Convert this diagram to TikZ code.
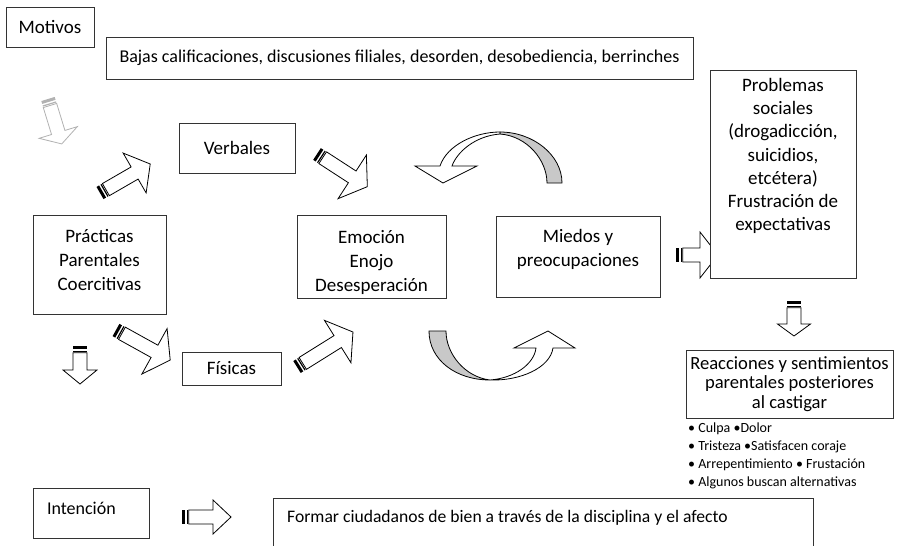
\documentclass[tikz,border=0pt]{standalone}
\usepackage{fontspec}
\setmainfont{Carlito}
\usepackage{tikz}
\usetikzlibrary{backgrounds}
\definecolor{bandgray}{HTML}{C8C8C8}
\definecolor{linegray}{HTML}{333333}

\begin{document}
\begin{tikzpicture}[x=1pt,y=-1pt,
  cbox/.style={draw=linegray,line width=1pt,fill=white,align=center,inner sep=0pt,
               font=\fontsize{19}{24}\selectfont},
  ltxt/.style={cbox,align=flush left},
  band/.style={draw=black,line width=0.8pt,fill=bandgray},
  face/.style={draw=black,line width=0.8pt,fill=white},
  pics/blockarr/.style n args={3}{code={
    \fill (0,-7) rectangle (3,7);
    \fill (4.6,-7) rectangle (5.8,7);
    \draw[line width=0.8pt,fill=white] (6.8,-7) -- ({#1-#3},-7) -- ({#1-#3},{-#2/2})
      -- (#1,0) -- ({#1-#3},{#2/2}) -- ({#1-#3},7) -- (6.8,7) -- cycle;
  }}
]
\useasboundingbox (0,0) rectangle (898,546);

\node[cbox,minimum width=88pt,minimum height=40pt] (motivos) at (50,27) {Motivos};
\node[cbox,minimum width=587pt,minimum height=42pt,
      font=\fontsize{18}{22}\selectfont] (causas) at (399.5,58)
  {Bajas calificaciones, discusiones filiales, desorden, desobediencia, berrinches};
\node[cbox,minimum width=116pt,minimum height=50pt] (verbales) at (237,148) {Verbales};
\node[cbox,minimum width=133pt,minimum height=99pt,text depth=10pt] (practicas) at (99.5,264.5)
  {Prácticas\\Parentales\\Coercitivas};
\node[cbox,minimum width=149pt,minimum height=83pt,text height=75pt,text depth=5pt] (emocion)
  at (371.5,256.5) {Emoción\\Enojo\\Desesperación};
\node[cbox,minimum width=164pt,minimum height=81pt,text depth=18pt] (miedos) at (578,256.5)
  {Miedos y\\preocupaciones};
\node[cbox,minimum width=99pt,minimum height=33pt] (fisicas) at (231.5,368.5) {Físicas};

\begin{scope}[on background layer]
  \pic at (676,255) {blockarr={42}{46}{18}};
\end{scope}
\node[cbox,minimum width=146pt,minimum height=208pt,text depth=39pt,
      font=\fontsize{19}{23.3}\selectfont] (problemas) at (783,174)
  {Problemas\\sociales\\(drogadicción,\\suicidios,\\etcétera)\\Frustración de\\expectativas};
\node[cbox,minimum width=207pt,minimum height=68pt,
      font=\fontsize{18.6}{19.5}\selectfont] (reacciones) at (789.5,384)
  {Reacciones y sentimientos\\parentales posteriores\\al castigar};
\node[anchor=north west,inner sep=0pt,align=left,
      font=\fontsize{14}{18}\selectfont] (reactlist) at (688,423)
  {• Culpa •Dolor\\• Tristeza •Satisfacen coraje\\• Arrepentimiento • Frustación\\• Algunos buscan alternativas};

\node[ltxt,minimum width=116pt,minimum height=50pt,text width=88pt,text height=14pt,
      text depth=11pt,font=\fontsize{18}{22}\selectfont] (intencion) at (91,513) {Intención};
\node[cbox,anchor=north west,minimum width=540pt,minimum height=62pt] (meta) at (273,498) {};
\node[anchor=west,inner sep=0pt,font=\fontsize{17.6}{21}\selectfont] (metatext) at (287,518)
  {Formar ciudadanos de bien a través de la disciplina y el afecto};

% block arrows
\pic[gray!60,rotate=-73] at (48,99) {blockarr={47}{40}{12}};
\pic[rotate=30] at (100,193) {blockarr={58}{46}{18}};
\pic[rotate=-33] at (317,154) {blockarr={60}{52}{18}};
\pic[rotate=-29] at (116,330) {blockarr={62}{52}{18}};
\pic[rotate=32] at (297,367) {blockarr={66}{50}{18}};
\pic[rotate=-90] at (80,346) {blockarr={38}{34}{14}};
\pic[rotate=-90] at (794,301) {blockarr={35}{33}{12}};
\pic at (182,517) {blockarr={49}{34}{18}};

% curved arrows
\draw[band] (500,132) .. controls (533,132) and (562,155) .. (562,183)
  -- (547,183) .. controls (547,160) and (527,136) .. (500,134) -- cycle;
\draw[face] (500,132) .. controls (475,132) and (447,145) .. (440,166)
  -- (415,166) -- (443,183) -- (477,166) -- (452,166)
  .. controls (457,152) and (475,136) .. (500,134) -- cycle;
\draw[band] (429,331) -- (446,331) .. controls (446,354) and (465,377) .. (490,380)
  .. controls (456,380) and (429,360) .. (429,331) -- cycle;
\draw[face] (490,380) .. controls (520,381) and (550,368) .. (553,348)
  -- (575,348) -- (548,331) -- (514,348) -- (536,348)
  .. controls (534,364) and (515,378) .. (490,380) -- cycle;
\end{tikzpicture}
\end{document}
